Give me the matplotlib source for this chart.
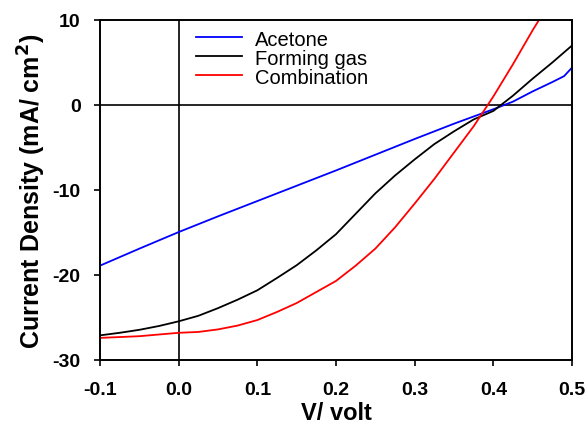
import matplotlib
matplotlib.use("Agg")
import matplotlib.pyplot as plt

plt.rcParams['font.family'] = ['Liberation Sans', 'DejaVu Sans']

v_acetone = [-0.1, -0.05, 0.0, 0.05, 0.1, 0.15, 0.2, 0.25, 0.3, 0.35, 0.4, 0.425, 0.45, 0.475, 0.49, 0.5]
j_acetone = [-18.9, -16.9, -14.95, -13.1, -11.3, -9.5, -7.7, -5.85, -4.0, -2.2, -0.5, 0.4, 1.6, 2.7, 3.4, 4.4]

v_forming = [-0.1, -0.075, -0.05, -0.025, 0.0, 0.025, 0.05, 0.075, 0.1, 0.125, 0.15, 0.175, 0.2, 0.225, 0.25,
             0.275, 0.3, 0.325, 0.35, 0.375, 0.4, 0.425, 0.45, 0.475, 0.5]
j_forming = [-27.1, -26.8, -26.45, -26.0, -25.45, -24.8, -23.9, -22.9, -21.8, -20.35, -18.85, -17.1, -15.2, -12.8, -10.4,
             -8.3, -6.4, -4.6, -3.1, -1.7, -0.7, 1.1, 3.1, 5.0, 7.0]

v_comb = [-0.1, -0.05, 0.0, 0.025, 0.05, 0.075, 0.1, 0.125, 0.15, 0.175, 0.2, 0.225, 0.25, 0.275, 0.3, 0.325, 0.35,
          0.375, 0.4, 0.425, 0.45, 0.46]
j_comb = [-27.4, -27.2, -26.8, -26.7, -26.4, -25.95, -25.3, -24.35, -23.3, -22.0, -20.7, -18.9, -16.9, -14.4, -11.6,
          -8.7, -5.6, -2.5, 1.0, 4.8, 8.8, 10.3]

labels = ['Acetone', 'Forming gas', 'Combination']
colors = ['#0000ff', '#000000', '#ff0000']

xticks = [-0.1, 0.0, 0.1, 0.2, 0.3, 0.4, 0.5]
yticks = [-30, -20, -10, 0, 10]

fig = plt.figure(figsize=(5.87, 4.27), dpi=100)
ax = fig.add_axes([100/587, 1-361/427, 472/587, 340/427])

ax.axhline(0, color='black', lw=1.2, zorder=1)
ax.axvline(0, color='black', lw=1.2, zorder=1)

ax.plot(v_acetone, j_acetone, color=colors[0], lw=1.3, label=labels[0])
ax.plot(v_forming, j_forming, color=colors[1], lw=1.3, label=labels[1])
ax.plot(v_comb, j_comb, color=colors[2], lw=1.3, label=labels[2])

ax.set_xlim(-0.1, 0.5)
ax.set_ylim(-30, 10)
ax.set_xticks(xticks)
ax.set_xticklabels([f'{t:.1f}' for t in xticks])
ax.set_yticks(yticks)
ax.set_yticklabels([str(t) for t in yticks])

for s in ax.spines.values():
    s.set_linewidth(1.4)
    s.set_color('black')
ax.tick_params(direction='out', length=4, width=1.2, labelsize=14)
ax.tick_params(axis='x', pad=11)
ax.tick_params(axis='y', pad=10)
for lab in ax.get_xticklabels() + ax.get_yticklabels():
    lab.set_fontweight('bold')

ax.set_xlabel('V/ volt', fontsize=17, fontweight='bold', labelpad=2)
ax.set_ylabel('Current Density (mA/ cm$^\\mathbf{2}$)', fontsize=18, fontweight='bold', labelpad=3)

leg = ax.legend(loc='upper left', bbox_to_anchor=(0.203, 0.972), frameon=False, fontsize=14.5,
                handlelength=2.3, handletextpad=0.65, labelspacing=0.0, borderaxespad=0, borderpad=0)

fig.savefig('out.png', dpi=100)
